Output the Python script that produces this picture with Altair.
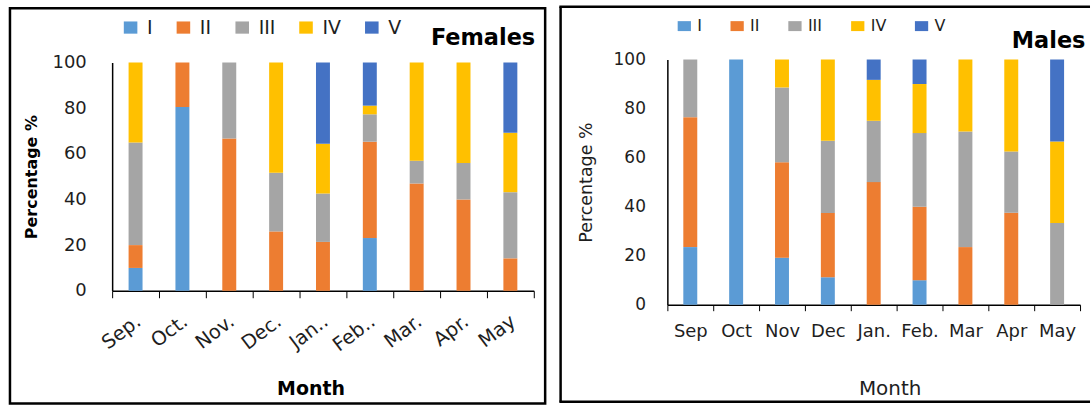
import altair as alt
import pandas as pd

stages = ["I", "II", "III", "IV", "V"]
colors = ["#5B9BD5", "#ED7D31", "#A5A5A5", "#FFC000", "#4472C4"]

f_months = ["Sep.", "Oct.", "Nov.", "Dec.", "Jan..", "Feb..", "Mar.", "Apr.", "May"]
f_I = [10, 80.5, 0, 0, 0, 23.1, 0, 0, 0]
f_II = [10, 19.5, 66.7, 26, 21.4, 42.2, 47, 40, 14.2]
f_III = [45, 0, 33.3, 25.7, 21.2, 12.0, 10, 16, 29]
f_IV = [35, 0, 0, 48.3, 21.8, 3.8, 43, 44, 26]
f_V = [0, 0, 0, 0, 35.6, 18.9, 0, 0, 30.8]

m_months = ["Sep", "Oct", "Nov", "Dec", "Jan.", "Feb.", "Mar", "Apr", "May"]
m_I = [23.5, 100, 19.2, 11.2, 0, 10, 0, 0, 0]
m_II = [53, 0, 38.9, 26.2, 50, 30, 23.5, 37.5, 0]
m_III = [23.5, 0, 30.5, 29.5, 25, 30, 47.1, 25, 33.3]
m_IV = [0, 0, 11.4, 33.1, 16.7, 20, 29.4, 37.5, 33.3]
m_V = [0, 0, 0, 0, 8.3, 10, 0, 0, 33.4]

y_ticks = [0, 20, 40, 60, 80, 100]

FONT = "DejaVu Sans"
TXT = "#1e1e1e"


def long_df(months, series):
    rows = []
    for k, (st, vals) in enumerate(zip(stages, series)):
        for m, v in zip(months, vals):
            if v > 0:
                rows.append({"month": m, "stage": st, "ord": k, "pct": v})
    return pd.DataFrame(rows)


one = pd.DataFrame({"b": [0]})

# ---------------- Females ----------------
FW, FH = 423, 229
fdf = long_df(f_months, [f_I, f_II, f_III, f_IV, f_V])

f_bars = alt.Chart(fdf).mark_bar(size=14).encode(
    x=alt.X("month:N", sort=f_months,
            scale=alt.Scale(domain=f_months, paddingInner=0, paddingOuter=0),
            axis=alt.Axis(title="Month", titleFont=FONT, titleFontSize=19,
                          titleFontWeight="bold", titleColor="#000",
                          titleX=199, titleY=104, titleBaseline="alphabetic",
                          labelAngle=323, labelAlign="right", labelBaseline="top",
                          labelFont=FONT, labelFontSize=19.5, labelOffset=-3,
                          labelColor=TXT, labelPadding=14, labelOverlap=False,
                          tickBand="extent", tickSize=7, tickColor="#000",
                          tickWidth=1, domainColor="#000", domainWidth=1.5)),
    y=alt.Y("pct:Q", stack="zero",
            scale=alt.Scale(domain=[0, 100], nice=False),
            axis=alt.Axis(values=y_ticks, title="Percentage %", titleFont=FONT,
                          titleFontSize=16, titleFontWeight="bold",
                          titleColor="#000", titleAngle=270, titleX=-76,
                          titleY=FH / 2, titleBaseline="alphabetic",
                          titleAlign="center",
                          labelFont=FONT, labelFontSize=18, labelColor=TXT,
                          labelPadding=26, ticks=False, tickSize=0,
                          domainColor="#000", domainWidth=1.5, grid=False)),
    color=alt.Color("stage:N", scale=alt.Scale(domain=stages, range=colors),
                    legend=alt.Legend(title=None, orient="none", legendX=9,
                                      legendY=-44.8, direction="horizontal",
                                      columns=5,
                                      symbolType="M-1,-0.9H1V0.9H-1Z",
                                      symbolSize=185, symbolStrokeWidth=0,
                                      labelFont=FONT, labelFontSize=19,
                                      labelColor=TXT, labelOffset=7,
                                      columnPadding=21, padding=0)),
    order=alt.Order("ord:Q", sort="ascending"),
)

f_title = alt.Chart(pd.DataFrame({"t": ["Females"]})).mark_text(
    align="right", baseline="alphabetic", font=FONT, fontSize=22.5,
    fontWeight="bold", color="#000"
).encode(text="t:N", x=alt.value(424.4), y=alt.value(-18))

f_border = alt.Chart(one).mark_rect(
    fill="transparent", stroke="#000", strokeWidth=2.5
).encode(x=alt.value(-102.5), x2=alt.value(434.4),
         y=alt.value(-54.5), y2=alt.value(342))

left = alt.layer(f_border, f_bars, f_title).properties(width=FW, height=FH)

# ---------------- Males ----------------
# the plot origins of both panels line up; this panel's value axis starts 3 px higher
MW, MH = 414, 243
mdf = long_df(m_months, [m_I, m_II, m_III, m_IV, m_V])

m_bars = alt.Chart(mdf).mark_bar(size=14).encode(
    x=alt.X("month:N", sort=m_months,
            scale=alt.Scale(domain=m_months, paddingInner=0, paddingOuter=0),
            axis=alt.Axis(title="Month", titleFont=FONT, titleFontSize=20,
                          titleFontWeight="normal", titleColor=TXT,
                          titleX=223, titleY=90, titleBaseline="alphabetic",
                          labelAngle=0, labelFont=FONT, labelFontSize=18,
                          labelColor=TXT, labelPadding=12, labelOverlap=False,
                          tickBand="extent", tickSize=6, tickColor="#000",
                          tickWidth=1, domainColor="#000", domainWidth=1.5)),
    y=alt.Y("pct:Q", stack="zero",
            scale=alt.Scale(domain=[0, 100], nice=False, range=[MH, -3]),
            axis=alt.Axis(values=y_ticks, title="Percentage %", titleFont=FONT,
                          titleFontSize=17.5, titleFontWeight="normal",
                          titleColor=TXT, titleAngle=270, titleX=-76,
                          titleY=(MH - 3) / 2, titleBaseline="alphabetic",
                          titleAlign="center",
                          labelFont=FONT, labelFontSize=17, labelColor=TXT,
                          labelPadding=22, ticks=False, tickSize=0,
                          domainColor="#000", domainWidth=1.5, grid=False)),
    color=alt.Color("stage:N", scale=alt.Scale(domain=stages, range=colors),
                    legend=alt.Legend(title=None, orient="none", legendX=9,
                                      legendY=-44.5, direction="horizontal",
                                      columns=5,
                                      symbolType="M-1,-0.75H1V0.75H-1Z",
                                      symbolSize=177, symbolStrokeWidth=0,
                                      labelFont=FONT, labelFontSize=16,
                                      labelColor=TXT, labelOffset=5,
                                      columnPadding=27, padding=0)),
    order=alt.Order("ord:Q", sort="ascending"),
)

m_title = alt.Chart(pd.DataFrame({"t": ["Males"]})).mark_text(
    align="right", baseline="alphabetic", font=FONT, fontSize=22.5,
    fontWeight="bold", color="#000"
).encode(text="t:N", x=alt.value(419.4), y=alt.value(-14.6))

m_top = alt.Chart(one).mark_rule(stroke="#000", strokeWidth=2.5).encode(
    x=alt.value(-108.35), x2=alt.value(424), y=alt.value(-56))
m_bottom = alt.Chart(one).mark_rule(stroke="#000", strokeWidth=2.5).encode(
    x=alt.value(-108.35), x2=alt.value(424), y=alt.value(340.4))
m_left = alt.Chart(one).mark_rule(stroke="#000", strokeWidth=2.5).encode(
    x=alt.value(-107.1), y=alt.value(-56), y2=alt.value(340.4))

right = alt.layer(m_top, m_bottom, m_left, m_bars, m_title).properties(width=MW, height=MH)

chart = alt.hconcat(left, right, spacing=11).resolve_scale(
    color="independent", x="independent", y="independent"
).properties(
    padding={"left": 8.5, "top": 4.05, "right": 0, "bottom": 0}
).configure_view(strokeWidth=0)

chart.save("out.html", embed_options={"renderer": "svg", "actions": False})
